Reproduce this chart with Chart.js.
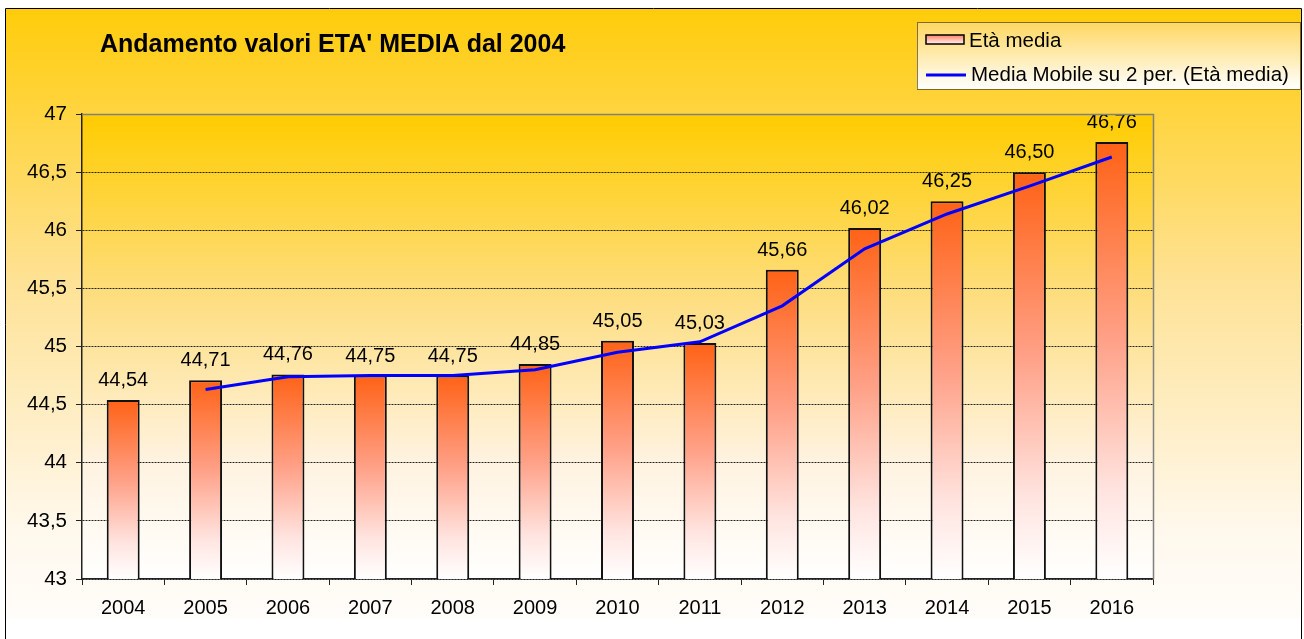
<!DOCTYPE html>
<html>
<head>
<meta charset="utf-8">
<script src="https://cdn.jsdelivr.net/npm/chart.js@4"></script>
<style>
  body { margin: 0; background: #fff; }
  #wrap { width: 1304px; height: 639px; }
</style>
</head>
<body>
<div id="wrap"><canvas id="etaChart" width="1304" height="639"></canvas></div>
<script>
// data
const years = ['2004', '2005', '2006', '2007', '2008', '2009', '2010', '2011', '2012', '2013', '2014', '2015', '2016'];
const etaMedia = [44.54, 44.71, 44.76, 44.75, 44.75, 44.85, 45.05, 45.03, 45.66, 46.02, 46.25, 46.50, 46.76];
const mediaMobile = [null, 44.63, 44.74, 44.75, 44.75, 44.80, 44.95, 45.04, 45.35, 45.84, 46.14, 46.38, 46.63];
const titleText = "Andamento valori ETA' MEDIA dal 2004";
const legendBar = 'Età media';
const legendLine = 'Media Mobile su 2 per. (Età media)';

const FONT = 'Arial, "Liberation Sans", sans-serif';

function fmt(v, dec) { // italian decimal comma
    return v.toFixed(dec).replace('.', ',');
}

function barGradient(context) {
    const chart = context.chart;
    const area = chart.chartArea;
    if (!area || context.raw == null) return '#ff6620';
    const top = chart.scales.y.getPixelForValue(context.raw);
    const g = chart.ctx.createLinearGradient(0, top, 0, area.bottom);
    g.addColorStop(0, 'rgb(255,98,22)');
    g.addColorStop(0.45, 'rgb(255,160,135)');
    g.addColorStop(0.8, 'rgb(255,228,224)');
    g.addColorStop(1, 'rgb(255,255,255)');
    return g;
}

const backdrop = { // frame + plot area gradients, title, legend, labels
    id: 'backdrop',
    beforeDraw(chart) {
        const c = chart.ctx;
        const a = chart.chartArea;
        c.save();
        c.fillStyle = '#fff';
        c.fillRect(0, 0, chart.width, chart.height);
        let g = c.createLinearGradient(0, 8, 0, 620);
        g.addColorStop(0, 'rgb(255,204,10)');
        g.addColorStop(0.45, 'rgb(254,226,150)');
        g.addColorStop(0.85, 'rgb(255,248,236)');
        g.addColorStop(1, 'rgb(255,253,250)');
        c.fillStyle = g;
        c.fillRect(6, 9, 1295, 610);
        c.strokeStyle = '#000';
        c.lineWidth = 1;
        c.beginPath();
        c.moveTo(5.5, 640); c.lineTo(5.5, 8.5); c.lineTo(1301.5, 8.5); c.lineTo(1301.5, 640);
        c.stroke();
        g = c.createLinearGradient(0, a.top, 0, a.bottom);
        g.addColorStop(0, 'rgb(255,204,0)');
        g.addColorStop(0.4, 'rgb(254,222,130)');
        g.addColorStop(0.75, 'rgb(255,243,225)');
        g.addColorStop(1, 'rgb(255,255,255)');
        c.fillStyle = g;
        c.fillRect(a.left, a.top, a.right - a.left, a.bottom - a.top);
        c.restore();
    },
    afterDraw(chart) {
        const c = chart.ctx;
        const a = chart.chartArea;
        c.save();
        // grey top/right border of plot area
        c.strokeStyle = '#808080';
        c.lineWidth = 1.5;
        c.beginPath();
        c.moveTo(a.left, a.top + 0.5); c.lineTo(a.right + 0.5, a.top + 0.5); c.lineTo(a.right + 0.5, a.bottom);
        c.stroke();

        // title
        c.fillStyle = '#000';
        c.font = 'bold 25px ' + FONT;
        c.textBaseline = 'middle';
        c.textAlign = 'left';
        c.fillText(titleText, 100, 45);

        // legend box
        const lx = 917, ly = 22, lw = 383, lh = 67;
        const lg = c.createLinearGradient(0, ly, 0, ly + lh);
        lg.addColorStop(0, 'rgb(255,215,95)');
        lg.addColorStop(1, 'rgb(255,255,255)');
        c.fillStyle = lg;
        c.fillRect(lx, ly, lw, lh);
        c.strokeStyle = '#000';
        c.lineWidth = 1;
        c.setLineDash([1, 1]);
        c.strokeRect(lx + 0.5, ly + 0.5, lw, lh);
        c.setLineDash([]);

        const sg = c.createLinearGradient(0, 35, 0, 45);
        sg.addColorStop(0, 'rgb(255,130,100)');
        sg.addColorStop(1, 'rgb(255,255,255)');
        c.fillStyle = sg;
        c.fillRect(926, 35, 38, 9);
        c.lineWidth = 1.5;
        c.strokeRect(926, 35, 38, 9);

        c.strokeStyle = '#0000ff';
        c.lineWidth = 3;
        c.beginPath();
        c.moveTo(926, 75); c.lineTo(966, 75);
        c.stroke();

        c.fillStyle = '#000';
        c.font = '20.5px ' + FONT;
        c.fillText(legendBar, 969, 41);
        c.fillText(legendLine, 971, 75);
        c.restore();
    },
    afterDatasetsDraw(chart) { // value labels over bars
        const c = chart.ctx;
        const meta = chart.getDatasetMeta(1);
        c.save();
        c.fillStyle = '#000';
        c.font = '20px ' + FONT;
        c.textAlign = 'center';
        c.textBaseline = 'alphabetic';
        meta.data.forEach((bar, i) => {
            c.fillText(fmt(etaMedia[i], 2), bar.x, bar.y - 14);
        });
        c.restore();
    }
};

const ctx = document.getElementById('etaChart').getContext('2d');

const etaChart = new Chart(ctx, {
    type: 'bar',
    data: {
        labels: years,
        datasets: [{
            type: 'line',
            label: legendLine,
            data: mediaMobile,
            borderColor: '#0000ff',
            borderWidth: 3,
            pointRadius: 0,
            fill: false,
            tension: 0,
            order: 0
        }, {
            label: legendBar,
            data: etaMedia,
            backgroundColor: barGradient,
            borderColor: '#111',
            borderWidth: 2,
            borderSkipped: false,
            barPercentage: 0.4,
            categoryPercentage: 1,
            order: 1
        }]
    },
    options: {
        responsive: false,
        animation: false,
        layout: { padding: { top: 114, right: 151, left: 0, bottom: 0 } },
        plugins: {
            legend: { display: false },
            title: { display: false },
            tooltip: { enabled: false }
        },
        scales: {
            x: {
                grid: {
                    offset: true,
                    drawOnChartArea: false,
                    tickLength: 6,
                    tickColor: '#222'
                },
                border: { color: '#222', width: 1.5 },
                ticks: {
                    color: '#000',
                    font: { family: FONT, size: 20 },
                    padding: 11,
                    maxRotation: 0
                },
                afterFit(scale) { scale.height = 60; }
            },
            y: {
                min: 43,
                max: 47,
                grid: {
                    color: '#222',
                    lineWidth: 1,
                    tickLength: 6,
                    tickColor: '#222',
                    tickBorderDash: []
                },
                border: { color: '#222', width: 1.5, dash: [2, 1] },
                ticks: {
                    stepSize: 0.5,
                    color: '#000',
                    padding: 9,
                    font: { family: FONT, size: 20.5 },
                    callback: function(value) {
                        return Number.isInteger(value) ? String(value) : fmt(value, 1);
                    }
                },
                afterFit(scale) { scale.width = 82; }
            }
        }
    },
    plugins: [backdrop]
});
</script>
</body>
</html>
